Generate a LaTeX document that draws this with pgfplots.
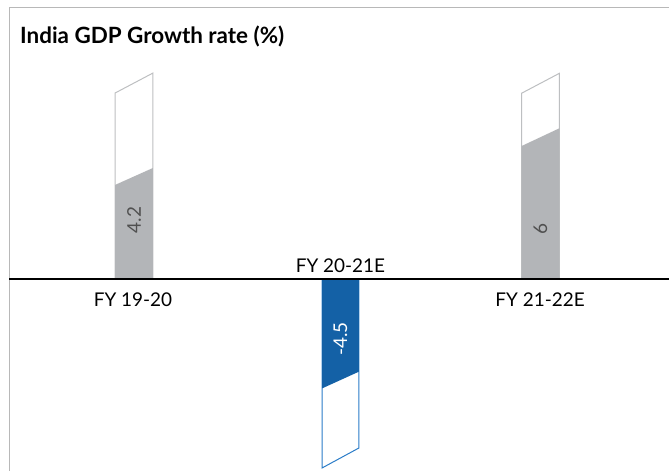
\documentclass[border=0pt]{standalone}
\usepackage{pgfplots}
\pgfplotsset{compat=1.18}
\usepackage{fontspec}
\setmainfont{Lato}
\definecolor{barGray}{HTML}{B3B5B8}
\definecolor{lineGray}{HTML}{BDBFC1}
\definecolor{barBlue}{HTML}{1461A6}
\definecolor{lineBlue}{HTML}{2A7CC8}
\definecolor{frameGray}{HTML}{B8B8B8}
\definecolor{lblGray}{HTML}{505050}
\begin{document}
\begin{tikzpicture}
\begin{axis}[
  at={(0,0)}, anchor=south west,
  width=669bp, height=471bp, scale only axis,
  hide axis, clip=false,
  xmin=-0.660, xmax=2.635, ymin=-8.0, ymax=11.625,
]
% outline (total) shapes
\addplot[draw=lineGray, line width=1pt, fill=white] coordinates {(-0.093,0) (-0.093,7.75) (0.093,8.58) (0.093,0)} -- cycle;
\addplot[draw=lineGray, line width=1pt, fill=white] coordinates {(1.909,0) (1.909,7.74) (2.095,8.57) (2.095,0)} -- cycle;
\addplot[draw=lineBlue, line width=1pt, fill=white] coordinates {(0.926,0) (0.926,-7.875) (1.108,-7.04) (1.108,0)} -- cycle;
% value fills
\addplot[draw=none, fill=barGray] coordinates {(-0.093,0) (-0.093,3.92) (0.093,4.625) (0.093,0)} -- cycle;
\addplot[draw=none, fill=barGray] coordinates {(1.909,0) (1.909,5.54) (2.095,6.28) (2.095,0)} -- cycle;
\addplot[draw=none, fill=barBlue] coordinates {(0.926,0) (0.926,-4.56) (1.108,-3.86) (1.108,0)} -- cycle;
% value labels
\node[rotate=90, font=\fontsize{19}{22}\selectfont, text=lblGray] at (axis cs:0,2.46) {4.2};
\node[rotate=90, font=\fontsize{19}{22}\selectfont, text=lblGray] at (axis cs:2.002,2.08) {6};
\node[rotate=90, font=\fontsize{19}{22}\selectfont, text=white] at (axis cs:1.017,-2.5) {-4.5};
% frame and zero line
\draw[frameGray, line width=1.5bp] (axis cs:-0.6143,-8.0) -- (axis cs:-0.6143,11.32) -- (axis cs:2.635,11.32);
\draw[black, line width=1.2bp] (axis cs:-0.6143,0) -- (axis cs:2.635,0);
% category labels
\node[anchor=base, font=\fontsize{19}{22}\selectfont] at (axis cs:-0.005,-1.146) {FY 19-20};
\node[anchor=base, font=\fontsize{19}{22}\selectfont] at (axis cs:1.017,0.28) {FY 20-21E};
\node[anchor=base, font=\fontsize{19}{22}\selectfont] at (axis cs:2.0,-1.146) {FY 21-22E};
% title
\node[anchor=base west, inner sep=0pt, font=\bfseries\fontsize{22.5}{26}\selectfont] at (axis cs:-0.5616,9.81) {India GDP Growth rate (\%)};
\end{axis}
\pgfresetboundingbox
\path (0,0) rectangle (669bp,471bp);
\end{tikzpicture}
\end{document}
